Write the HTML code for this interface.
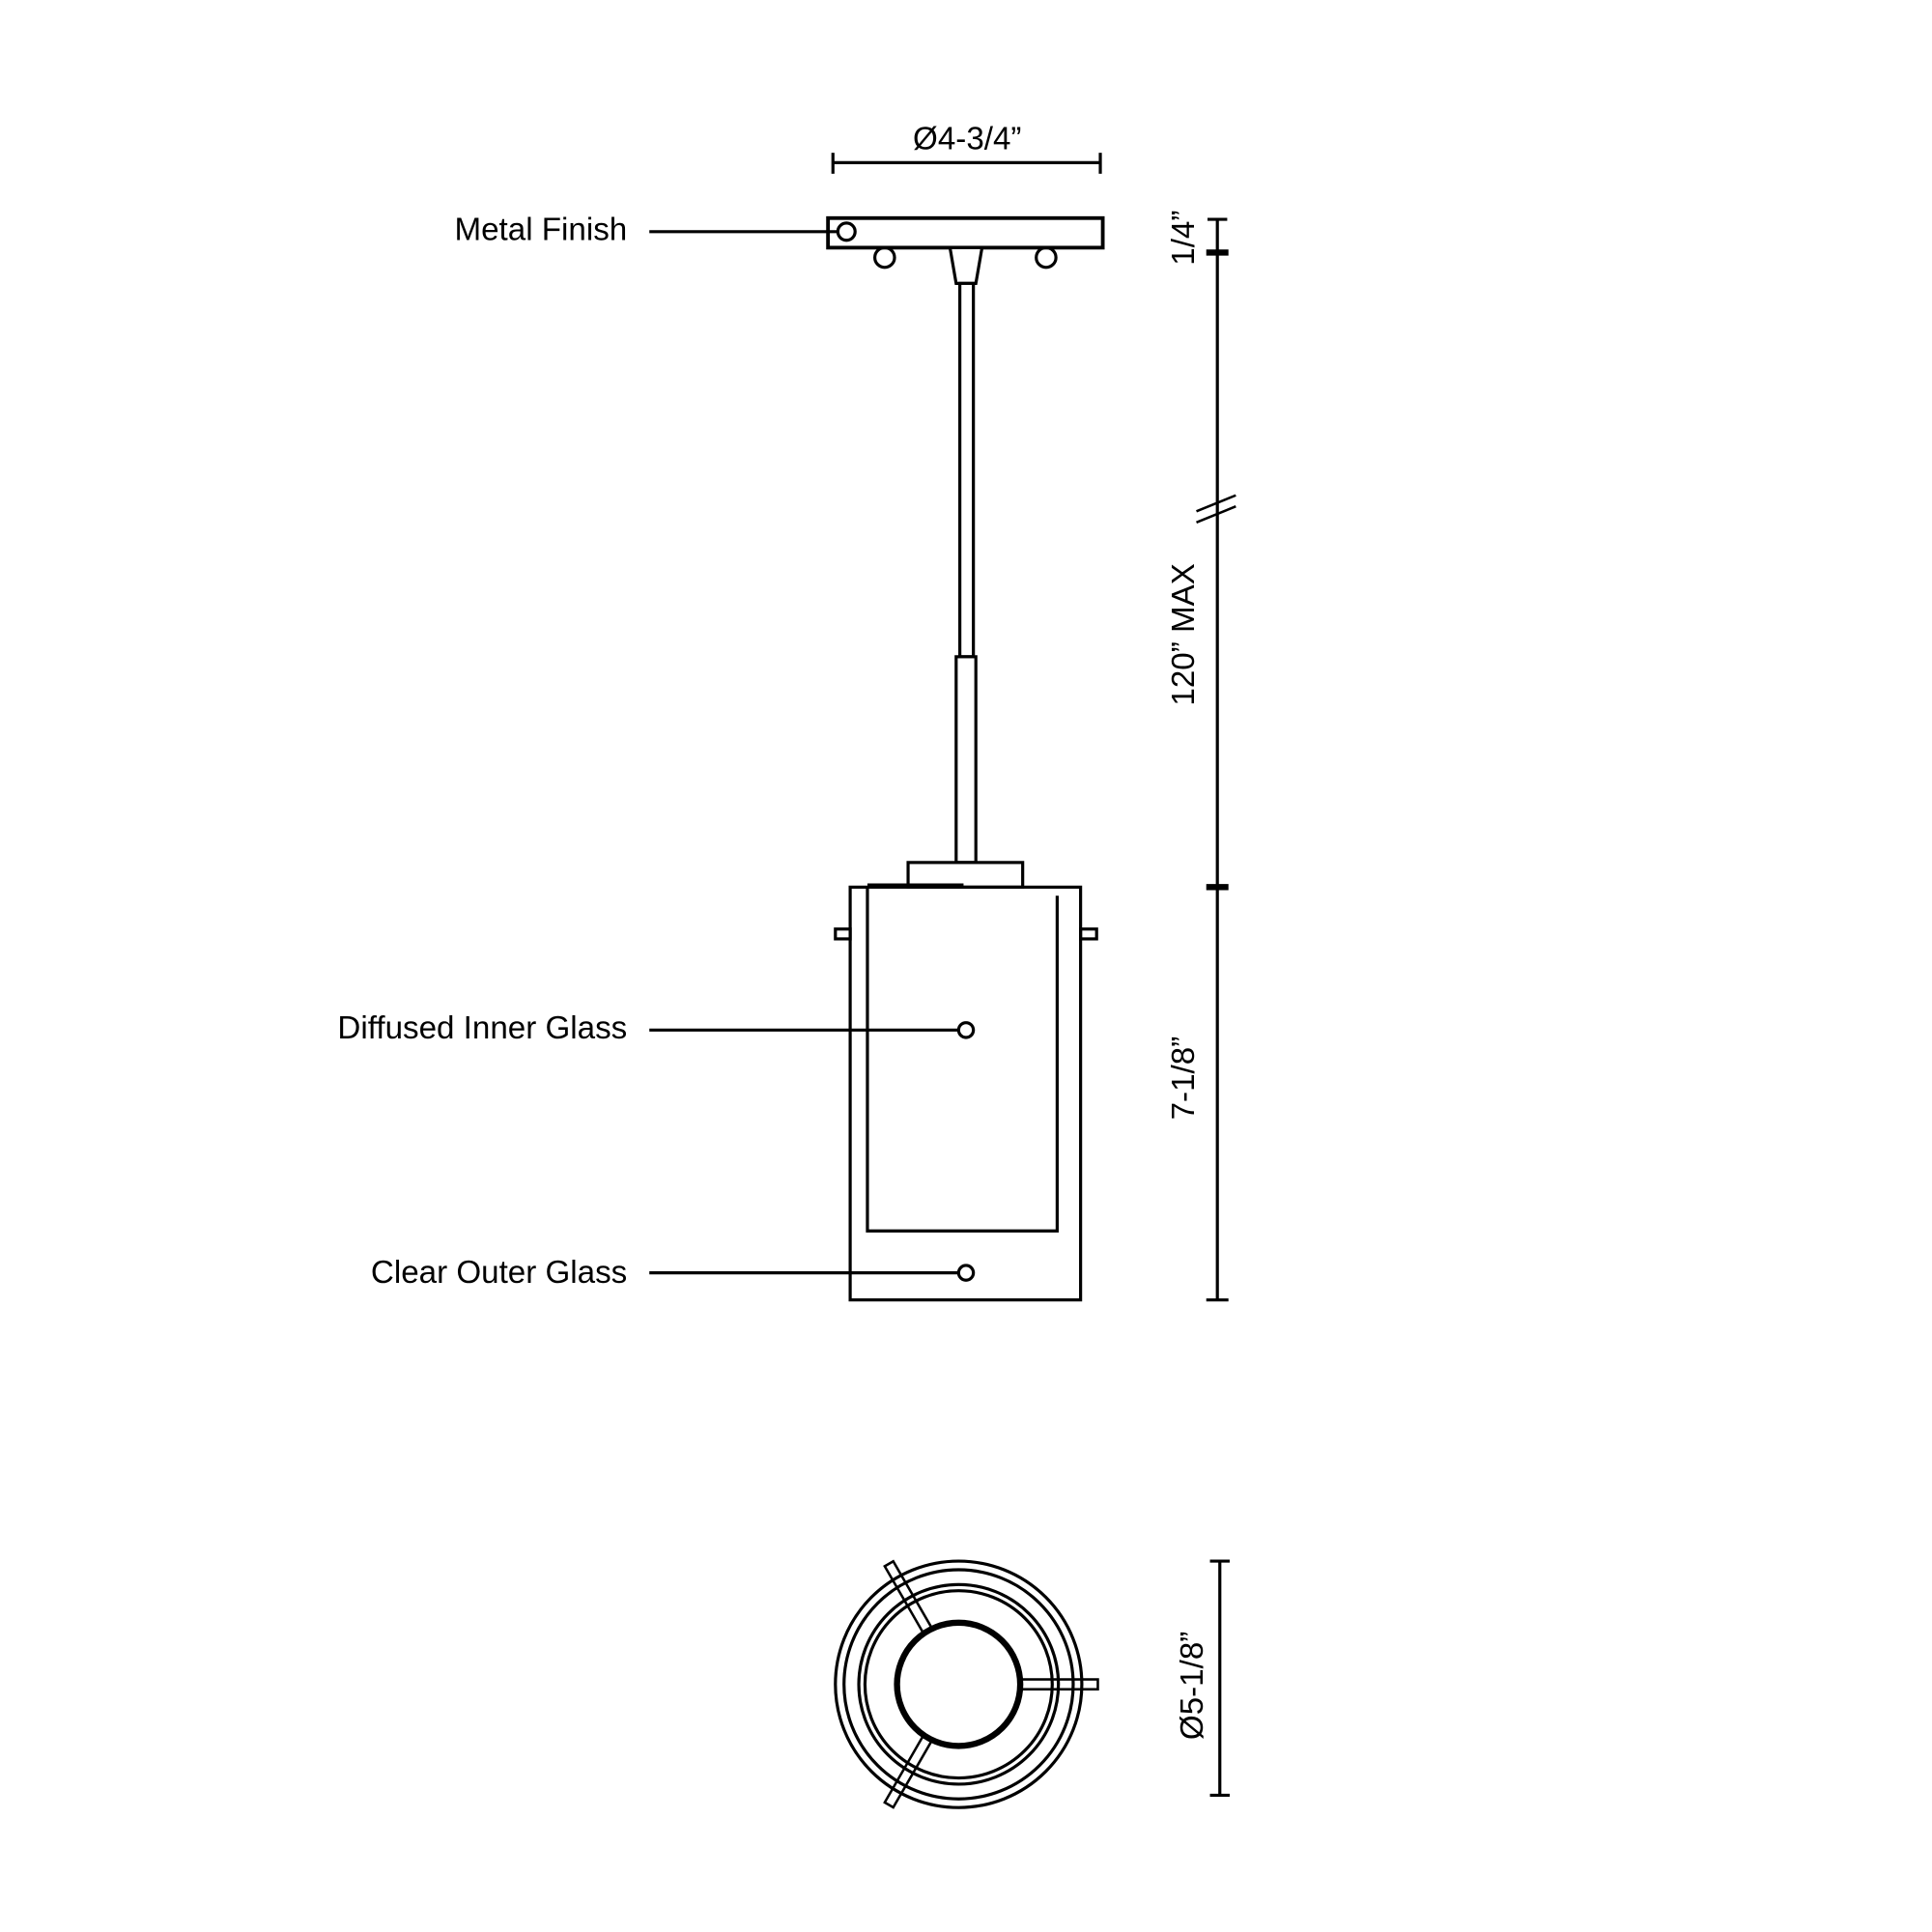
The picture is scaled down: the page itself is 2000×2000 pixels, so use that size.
<!DOCTYPE html>
<html><head><meta charset="utf-8"><style>html,body{margin:0;padding:0;background:#fff}svg{display:block}</style></head>
<body>
<svg width="2000" height="2000" viewBox="0 0 1568 1568" xmlns="http://www.w3.org/2000/svg" font-family="Liberation Sans, sans-serif" font-size="26" fill="none" stroke="#000" stroke-width="2.5">
<!-- top dimension -->
<line x1="676" y1="132" x2="893" y2="132"/>
<line x1="676" y1="124" x2="676" y2="141"/>
<line x1="893" y1="124" x2="893" y2="141"/>
<text x="785" y="121" text-anchor="middle" fill="#000" stroke="none">Ø4-3/4”</text>
<!-- canopy -->
<circle cx="718" cy="209" r="8" fill="#fff"/>
<circle cx="849" cy="209" r="8" fill="#fff"/>
<rect x="672" y="177" width="223" height="24" fill="#fff" stroke-width="3"/>
<circle cx="687" cy="188" r="7" fill="#fff"/>
<polygon points="771,201 797,201 792,230 776,230" fill="#fff"/>
<rect x="779" y="230" width="11" height="303" fill="#fff"/>
<rect x="776" y="533" width="16" height="167" fill="#fff"/>
<rect x="737" y="700" width="93" height="20" fill="#fff"/>
<!-- shade -->
<rect x="678" y="754" width="12" height="8" fill="#fff"/>
<rect x="877" y="754" width="13" height="8" fill="#fff"/>
<rect x="690" y="720" width="187" height="335" fill="none"/>
<polyline points="704,720 704,999 858,999 858,727"/>
<line x1="704" y1="719" x2="782" y2="719" stroke-width="4"/>
<circle cx="784" cy="836" r="6" fill="#fff"/>
<circle cx="784" cy="1033" r="6" fill="#fff"/>
<!-- leaders -->
<line x1="527" y1="188" x2="680" y2="188"/>
<line x1="527" y1="836" x2="778" y2="836"/>
<line x1="527" y1="1033" x2="778" y2="1033"/>
<g fill="#000" stroke="none" text-anchor="end">
<text x="509" y="195">Metal Finish</text>
<text x="509" y="843">Diffused Inner Glass</text>
<text x="509" y="1041">Clear Outer Glass</text>
</g>
<!-- right dimension -->
<line x1="988" y1="178" x2="988" y2="1055"/>
<line x1="980" y1="178" x2="996" y2="178"/>
<line x1="979" y1="205" x2="997" y2="205" stroke-width="5"/>
<line x1="979" y1="720" x2="997" y2="720" stroke-width="5"/>
<line x1="979" y1="1055" x2="997" y2="1055"/>
<line x1="971" y1="415" x2="1003" y2="402" stroke-width="2"/>
<line x1="971" y1="424" x2="1003" y2="411" stroke-width="2"/>
<g fill="#000" stroke="none" text-anchor="middle">
<text transform="translate(969,193) rotate(-90)">1/4”</text>
<text transform="translate(969,515) rotate(-90)">120” MAX</text>
<text transform="translate(969,875) rotate(-90)">7-1/8”</text>
<text transform="translate(976,1368) rotate(-90)">Ø5-1/8”</text>
</g>
<line x1="990" y1="1267" x2="990" y2="1457"/>
<line x1="982" y1="1267" x2="998" y2="1267"/>
<line x1="982" y1="1457" x2="998" y2="1457"/>
<!-- bottom view -->
<g transform="translate(778,1367)">
<circle r="100" stroke-width="2.5"/>
<circle r="93" stroke-width="2.5"/>
<circle r="81" stroke-width="2.5"/>
<circle r="76" stroke-width="2.5"/>
<g fill="none" stroke-width="2">
<rect x="50" y="-4" width="63" height="8"/>
<rect x="50" y="-4" width="63" height="8" transform="rotate(120)"/>
<rect x="50" y="-4" width="63" height="8" transform="rotate(240)"/>
</g>
<circle r="50" stroke-width="5" fill="#fff"/>
</g>
</svg>
</body></html>
